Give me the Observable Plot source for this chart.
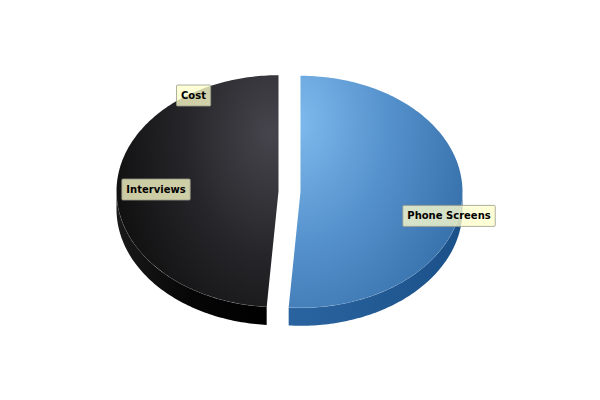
<!DOCTYPE html>
<html>
<head>
<meta charset="utf-8">
<script src="https://cdn.jsdelivr.net/npm/d3@7"></script>
<script src="https://cdn.jsdelivr.net/npm/@observablehq/plot@0.6"></script>
<style>
  html, body { margin: 0; padding: 0; background: #ffffff; }
  #chart { width: 600px; height: 400px; }
</style>
</head>
<body>
<div id="chart"></div>
<script>
// ---- data ----
const categories = ["Phone Screens", "Interviews", "Cost"];
const values = [22, 21, 0];

// ---- styling / layout (not data) ----
const topFills  = ["url(#topBlue)", "url(#topBlack)", "url(#topBlack)"];
const sideFills = ["url(#sideBlue)", "url(#sideBlack)", "url(#sideBlack)"];
const labelNudge = [[19, 21], [7, 2], [-96, 5]];   // pixel nudges for label boxes

const W = 600, H = 400;
const cxPx = 289, cyPx = 191, rxPx = 162;          // pie centre & radius in pixels
const tilt = 116 / 162, depth = 18 / 162, explode = 11 / 162, labelR = 0.8;

const total = d3.sum(values);
let acc = 0;
const slices = categories.map((c, i) => {
  const a0 = acc / total * 2 * Math.PI;
  acc += values[i];
  const a1 = acc / total * 2 * Math.PI;
  const mid = (a0 + a1) / 2;
  return {c, i, v: values[i], a0, a1, mid,
          ox: Math.sin(mid) * explode, oy: Math.cos(mid) * tilt * explode};
});

const pt = (s, t, dz = 0) => ({x: s.ox + Math.sin(t), y: s.oy + Math.cos(t) * tilt - dz});
function arcPts(s, t0, t1, dz = 0) {
  const n = Math.max(2, Math.ceil((t1 - t0) / (Math.PI / 180)));
  return d3.range(n + 1).map(k => pt(s, t0 + (t1 - t0) * k / n, dz));
}

const marks = [];
// sides (front rim only)
for (const s of slices) {
  if (s.v <= 0) continue;
  const t0 = Math.max(s.a0, Math.PI / 2), t1 = Math.min(s.a1, 3 * Math.PI / 2);
  if (t1 <= t0) continue;
  const pts = [...arcPts(s, t0, t1), ...arcPts(s, t0, t1, depth).reverse()];
  marks.push(Plot.line(pts, {x: "x", y: "y", fill: sideFills[s.i], stroke: "none"}));
}
// top faces
for (const s of slices) {
  if (s.v <= 0) continue;
  const pts = [{x: s.ox, y: s.oy}, ...arcPts(s, s.a0, s.a1)];
  marks.push(Plot.line(pts, {x: "x", y: "y", fill: topFills[s.i], stroke: "none"}));
}
// faint seam along front rim
for (const s of slices) {
  if (s.v <= 0) continue;
  const t0 = Math.max(s.a0, Math.PI / 2), t1 = Math.min(s.a1, 3 * Math.PI / 2);
  if (t1 <= t0) continue;
  marks.push(Plot.line(arcPts(s, t0, t1), {x: "x", y: "y", stroke: "#ffffff", strokeOpacity: 0.12, strokeWidth: 0.8}));
}
// labels
for (const s of slices) {
  const p = {x: s.ox + labelR * Math.sin(s.mid), y: s.oy + labelR * Math.cos(s.mid) * tilt, text: s.c};
  marks.push(Plot.text([p], {
    x: "x", y: "y", text: "text",
    dx: labelNudge[s.i][0], dy: labelNudge[s.i][1],
    fontSize: 10, fontWeight: "bold", fontFamily: "DejaVu Sans",
    fill: "#000", textAnchor: "middle", lineAnchor: "middle",
    className: "pie-label"
  }));
}

const svg = Plot.plot({
  width: W, height: H,
  margin: 0,
  x: {domain: [-cxPx / rxPx, (W - cxPx) / rxPx], range: [0, W], axis: null},
  y: {domain: [(cyPx - H) / rxPx, cyPx / rxPx], range: [H, 0], axis: null},
  style: {background: "#ffffff", overflow: "visible"},
  marks
});

document.getElementById("chart").appendChild(svg);

const defs = d3.select(svg).insert("defs", ":first-child");
function radial(id, cx, cy, r, stops) {
  const g = defs.append("radialGradient").attr("id", id)
    .attr("cx", cx).attr("cy", cy).attr("r", r).attr("fx", cx).attr("fy", cy);
  stops.forEach(([o, c]) => g.append("stop").attr("offset", o).attr("stop-color", c));
}
function linear(id, stops) {
  const g = defs.append("linearGradient").attr("id", id)
    .attr("x1", 0).attr("y1", 0).attr("x2", 1).attr("y2", 0);
  stops.forEach(([o, c]) => g.append("stop").attr("offset", o).attr("stop-color", c));
}
radial("topBlue", 0.05, 0.2, 1.05, [[0, "#7fbaed"], [0.5, "#5591cc"], [1, "#3670ab"]]);
radial("topBlack", 0.95, 0.25, 1.05, [[0, "#46454d"], [0.5, "#26262a"], [1, "#0e0e0e"]]);
linear("sideBlue", [[0, "#2a64a0"], [1, "#1b5189"]]);
linear("sideBlack", [[0, "#1a1a1a"], [0.5, "#060606"], [1, "#000000"]]);

// label boxes behind texts (same transform as the text)
d3.select(svg).selectAll(".pie-label text").each(function() {
  const b = this.getBBox();
  const r = d3.select(this.parentNode).insert("rect", () => this)
    .attr("x", b.x - 4.5).attr("y", b.y - 5)
    .attr("width", b.width + 9).attr("height", b.height + 10)
    .attr("rx", 1)
    .attr("fill", "#ffffcc").attr("fill-opacity", 0.78)
    .attr("stroke", "#9a9a8a").attr("stroke-opacity", 0.8).attr("stroke-width", 1);
  const tr = this.getAttribute("transform");
  if (tr) r.attr("transform", tr);
});
</script>
</body>
</html>
